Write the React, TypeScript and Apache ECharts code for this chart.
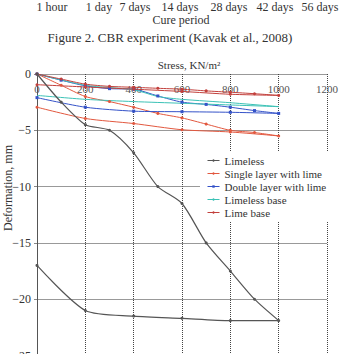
import React, { useEffect, useRef } from "react";
import * as echarts from "echarts";

const FONT = "'Liberation Serif', 'DejaVu Serif', serif";

const cureLabels = ["1 hour", "1 day", "7 days", "14 days", "28 days", "42 days", "56 days"];
const cureLabelX = [52, 99, 135, 180, 229, 275, 320];

const seriesNames = ["Limeless", "Single layer with lime", "Double layer with lime", "Limeless base", "Lime base"];

const loopStress = [0, 100, 200, 300, 400, 500, 600, 700, 800, 900, 1000, 800, 600, 400, 200, 0];
const limelessDef = [0, -2.5, -4.5, -5.0, -7.0, -10.0, -11.5, -15.0, -17.5, -20.0, -21.9, -21.9, -21.7, -21.5, -21.0, -17.0];
const singleDef = [0, -1.0, -2.0, -2.45, -2.95, -3.5, -3.9, -4.45, -5.0, -5.2, -5.5, -5.15, -4.95, -4.4, -3.95, -2.95];
const doubleDef = [0, -0.55, -1.05, -1.3, -1.35, -1.95, -2.5, -2.7, -2.95, -3.25, -3.5, -3.4, -3.35, -3.3, -2.95, -2.1];
const limeBaseDef = [0, -0.45, -0.9, -1.1, -1.18, -1.27, -1.35, -1.5, -1.62, -1.75, -1.9, -1.8, -1.55, -1.35, -1.15, -0.95];

const baseStress = [0, 200, 400, 500, 600, 800, 1000, 800, 600, 400, 200, 0];
const limelessBaseDef = [0, -1.0, -1.4, -2.0, -2.25, -2.55, -2.9, -2.75, -2.6, -2.45, -2.25, -1.9];

const xTicks = [0, 200, 400, 600, 800, 1000, 1200];
const yTicks = [0, -5, -10, -15, -20, -25];

const colors = ["#555555", "#e2583f", "#3452c8", "#3cc2b6", "#c2403c"];
const symbols = ["circle", "circle", "rect", "none", "circle"];

function pairs(xs: number[], ys: number[]) {
  return xs.map((x, i) => [x, ys[i]]);
}

export default function App() {
  const ref = useRef<HTMLDivElement>(null);
  useEffect(() => {
    if (!ref.current) return;
    const chart = echarts.init(ref.current, undefined, { renderer: "svg" });
    const datasets = [
      pairs(loopStress, limelessDef),
      pairs(loopStress, singleDef),
      pairs(loopStress, doubleDef),
      pairs(baseStress, limelessBaseDef),
      pairs(loopStress, limeBaseDef),
    ];
    const graphics: any[] = [];
    cureLabels.forEach((t, i) => {
      graphics.push({
        type: "text",
        x: cureLabelX[i],
        y: 6.5,
        style: { text: t, font: `12px ${FONT}`, fill: "#333", align: "center", verticalAlign: "middle" },
      });
    });
    graphics.push({
      type: "text",
      x: 181,
      y: 20,
      style: { text: "Cure period", font: `12px ${FONT}`, fill: "#333", align: "center", verticalAlign: "middle" },
    });
    graphics.push({
      type: "text",
      x: 170,
      y: 37,
      style: {
        text: "Figure 2. CBR experiment (Kavak et al., 2008)",
        font: `13px ${FONT}`,
        fill: "#333",
        align: "center",
        verticalAlign: "middle",
      },
    });
    graphics.push({
      type: "text",
      x: 189,
      y: 65,
      style: { text: "Stress, KN/m²", font: `11px ${FONT}`, fill: "#333", align: "center", verticalAlign: "middle" },
    });
    graphics.push({
      type: "text",
      x: 8,
      y: 188,
      rotation: Math.PI / 2,
      style: { text: "Deformation, mm", font: `12px ${FONT}`, fill: "#333", align: "center", verticalAlign: "middle" },
    });

    chart.setOption({
      animation: false,
      backgroundColor: "#fff",
      textStyle: { fontFamily: FONT },
      grid: { left: 37, right: 12, top: 74, bottom: 14.5, containLabel: false },
      xAxis: {
        type: "value",
        position: "top",
        min: xTicks[0],
        max: xTicks[xTicks.length - 1],
        interval: 200,
        axisLine: { show: false },
        axisTick: { show: false },
        axisLabel: {
          inside: true,
          margin: 9,
          fontSize: 11,
          color: "#555",
          fontFamily: FONT,
          formatter: (v: number) => String(v),
        },
        splitLine: { show: true, lineStyle: { type: "dotted", color: "#444", width: 1 } },
      },
      yAxis: {
        type: "value",
        min: yTicks[yTicks.length - 1],
        max: yTicks[0],
        interval: 5,
        axisLine: { show: true, onZero: false, lineStyle: { color: "#555", width: 1 } },
        axisTick: { show: true, length: 3, lineStyle: { color: "#888" } },
        axisLabel: {
          fontSize: 12,
          color: "#333",
          margin: 6,
          fontFamily: FONT,
          formatter: (v: number) => String(v).replace("-", "\u2212"),
        },
        splitLine: { show: true, lineStyle: { type: "solid", color: "#999", width: 1 } },
      },
      legend: {
        orient: "vertical",
        left: 200,
        top: 151,
        padding: [3, 5, 3, 7],
        backgroundColor: "#fff",
        itemWidth: 12,
        itemHeight: 3,
        itemGap: 0,
        lineStyle: { width: 1 },
        itemStyle: { borderWidth: 0 },
        data: seriesNames,
        textStyle: { fontSize: 11, lineHeight: 13, color: "#333", fontFamily: FONT },
      },
      graphic: graphics,
      series: seriesNames.map((name, i) => ({
        name,
        type: "line",
        data: datasets[i],
        smooth: 0.25,
        symbol: symbols[i],
        symbolSize: 3,
        showSymbol: symbols[i] !== "none",
        itemStyle: { color: colors[i] },
        lineStyle: { color: colors[i], width: i === 0 ? 1.2 : 1 },
        z: i === 0 ? 3 : 2,
      })),
    });
    return () => chart.dispose();
  }, []);
  return (
    <div style={{ position: "fixed", left: 0, top: 0, width: 341, height: 354, overflow: "hidden", background: "#fff" }}>
      <div ref={ref} style={{ width: 341, height: 370 }} />
    </div>
  );
}
